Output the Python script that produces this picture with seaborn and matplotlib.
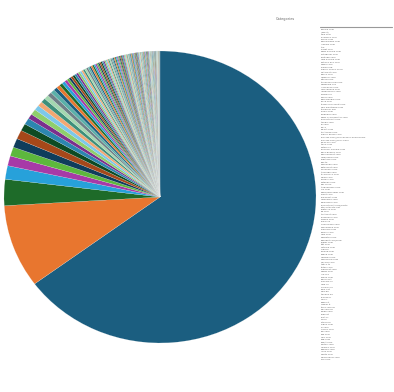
import numpy as np
import matplotlib
matplotlib.use("Agg")
import matplotlib.pyplot as plt
import seaborn as sns

# slice values, biggest first (tail estimated)
head_values = [5269, 747, 235, 122, 89, 81, 81, 81, 65, 57, 45]
mid_values = [50, 45, 42, 40, 38, 36, 34, 32, 30, 28, 26, 24]
tail_values = [20, 19, 19, 18, 18, 17, 17, 16, 16, 15,
               15, 15, 14, 14, 14, 13, 13, 13, 12, 12,
               12, 12, 11, 11, 11, 11, 10, 10, 10, 10,
               10, 10, 9, 9, 9, 9, 9, 9, 8, 8,
               8, 8, 8, 8, 8, 7, 7, 7, 7, 7,
               7, 7, 7, 6, 6, 6, 6, 6, 6, 6,
               6, 6, 6, 5, 5, 5, 5, 5, 5, 5,
               5, 5, 5, 5, 4, 4, 4, 4, 4, 4,
               4, 4, 4, 4, 4, 4, 3, 3, 3, 3,
               3, 3, 3, 3, 3, 3, 3, 3, 2, 2,
               2, 2, 2, 2, 2, 2, 2, 2, 2, 2]

labels = [
    "google.com", "(direct)", "bing.com", "facebook.com", "yahoo.com", "duckduckgo.com",
    "linkedin.com", "t.co", "reddit.com", "news.google.com", "instagram.com",
    "youtube.com", "mail.google.com", "outlook.live.com", "baidu.com", "ecosia.org",
    "search.yahoo.co.jp", "pinterest.com", "quora.com", "medium.com", "github.com",
    "stackoverflow.com", "wikipedia.org", "l.facebook.com", "m.facebook.com",
    "lm.facebook.com", "yandex.ru", "naver.com", "docs.google.com", "slack.com",
    "teams.microsoft.com", "web.whatsapp.com", "telegram.org", "feedly.com",
    "flipboard.com", "news.ycombinator.com", "producthunt.com", "tumblr.com",
    "vk.com", "ok.ru", "qwant.com", "startpage.com", "search.brave.com",
    "android-app://com.google.android.gm", "android-app://com.slack", "away.vk.com",
    "trello.com", "notion.so", "calendar.google.com", "drive.google.com",
    "app.hubspot.com", "mailchimp.com", "substack.com", "dev.to", "hashnode.com",
    "getpocket.com", "inoreader.com", "theverge.com", "techcrunch.com",
    "wired.com", "forbes.com", "nytimes.com", "bbc.co.uk", "theguardian.com",
    "cnn.com", "businessinsider.com", "zdnet.com", "engadget.com", "mashable.com",
    "lifehacker.com", "producthunt.com/posts", "alternativeto.net", "capterra.com",
    "g2.com", "trustpilot.com", "glassdoor.com", "indeed.com", "angel.co",
    "crunchbase.com", "similarweb.com", "semrush.com", "ahrefs.com", "moz.com",
    "neilpatel.com", "hubspot.com/blog", "zapier.com", "ifttt.com", "airtable.com",
    "coda.io", "clickup.com", "asana.com", "monday.com", "basecamp.com",
    "discord.com", "twitch.tv", "tiktok.com", "snapchat.com", "weibo.com",
    "line.me", "kakao.com", "daum.net", "seznam.cz", "mail.ru", "rambler.ru",
    "gmx.net", "web.de", "t-online.de", "orange.fr", "free.fr", "libero.it",
    "virgilio.it", "terra.com.br", "uol.com.br", "globo.com", "sapo.pt",
    "onet.pl", "wp.pl", "interia.pl", "sogou.com", "so.com", "coccoc.com",
    "aol.com", "ask.com", "msn.com", "avg.com", "avast.com", "norton.com",
    "mcafee.com", "dogpile.com", "lycos.com", "excite.com", "webcrawler.com",
    "info.com", "search.aol.com",
]

values = head_values + mid_values + tail_values
labels = labels[:len(values)]

palette = ["#1b5e80", "#e8762f", "#1e6b29", "#27a1da", "#a73aa7", "#5db83d",
           "#0f3d5c", "#a5481a", "#0e4b23", "#2c86b0", "#7c2f8d", "#8fcf6c",
           "#7cc8ea", "#f2a772", "#3d8f7a", "#a4d8b0", "#6f7f87", "#5ab0a8"]
colors = [palette[i % len(palette)] for i in range(len(values))]

sns.set_theme(style="white")
W, H = 394, 392
fig = plt.figure(figsize=(W / 100, H / 100), dpi=100)
ax = fig.add_axes([4 / W, 49 / H, 312 / W, 292 / H])

wedges, _ = ax.pie(values, colors=colors, startangle=90, counterclock=False,
                   wedgeprops=dict(edgecolor="#f4f4f4", linewidth=0.1))
ax.set_aspect("auto")
ax.set_xlim(-1, 1)
ax.set_ylim(-1, 1)
ax.axis("off")

fig.text(0.70, 0.948, "Categories", fontsize=2.5, color="#666666")

# legend as a plain list of labels down the right side
row_h = 2.5
for i, lab in enumerate(labels):
    fig.text(321 / W, 1 - (29 + i * row_h) / H, lab, fontsize=1.7,
             color="#666666", va="top", ha="left")
fig.add_artist(plt.Line2D([320 / W, 392 / W], [1 - 27 / H, 1 - 27 / H],
                          color="#999999", linewidth=0.8, transform=fig.transFigure))

fig.savefig("out.png", dpi=100)
